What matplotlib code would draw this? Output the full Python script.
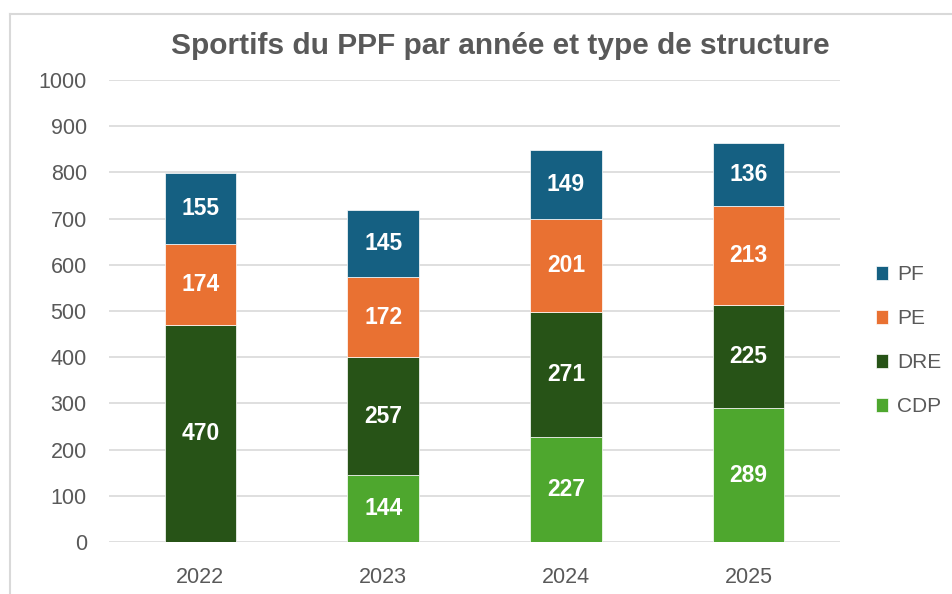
import numpy as np
import matplotlib.pyplot as plt
from matplotlib.lines import Line2D

years = ['2022', '2023', '2024', '2025']
cdp = [0, 144, 227, 289]
dre = [470, 257, 271, 225]
pe = [174, 172, 201, 213]
pf = [155, 145, 149, 136]

series = [('CDP', cdp, '#4EA72E'), ('DRE', dre, '#275317'),
          ('PE', pe, '#E97132'), ('PF', pf, '#156082')]

plt.rcParams['font.family'] = ['Liberation Sans', 'DejaVu Sans']
grey = '#595959'

fig = plt.figure(figsize=(9.52, 5.94), dpi=100)
ax = fig.add_axes([109 / 952, 1 - 542 / 594, 731 / 952, 462 / 594])

x = np.arange(len(years))
bottom = np.zeros(len(years))
handles = {}
for name, vals, col in series:
    vals = np.array(vals)
    bars = ax.bar(x, vals, 0.39, bottom=bottom, color=col, zorder=3,
                  edgecolor='white', linewidth=0.5)
    handles[name] = bars
    for xi, b, v in zip(x, bottom, vals):
        if v > 0:
            ax.text(xi, b + v / 2, str(v), ha='center', va='center',
                    color='white', fontsize=16.5, fontweight='bold', zorder=4)
    bottom += vals

ax.set_xlim(-0.5, 3.5)
ax.set_ylim(0, 1000)
ax.set_yticks(range(0, 1001, 100))
ax.set_xticks(x)
ax.set_xticklabels(years)
ax.yaxis.grid(True, color='#d9d9d9', linewidth=1.2, zorder=0)
ax.tick_params(length=0, labelsize=15.5, colors=grey)
ax.tick_params(axis='y', pad=16)
ax.tick_params(axis='x', pad=18)
for s in ax.spines.values():
    s.set_visible(False)

fig.text(500 / 952, 1 - 46 / 594, 'Sportifs du PPF par année et type de structure',
         fontsize=21.5, fontweight='bold', color=grey, ha='center', va='center')

order = ['PF', 'PE', 'DRE', 'CDP']
leg = fig.legend([handles[n] for n in order], order, loc='center left',
                 bbox_to_anchor=(0.9, 0.426), frameon=False, fontsize=15,
                 labelcolor=grey, handlelength=0.6, handleheight=0.6,
                 labelspacing=1.2, handletextpad=0.45)

# outer chart border
fig.add_artist(Line2D([10 / 952, 10 / 952], [0, 1 - 14 / 594],
                      color='#d9d9d9', linewidth=1.5))
fig.add_artist(Line2D([10 / 952, 1], [1 - 14 / 594, 1 - 14 / 594],
                      color='#d9d9d9', linewidth=1.5))

fig.savefig('out.png', dpi=100)
